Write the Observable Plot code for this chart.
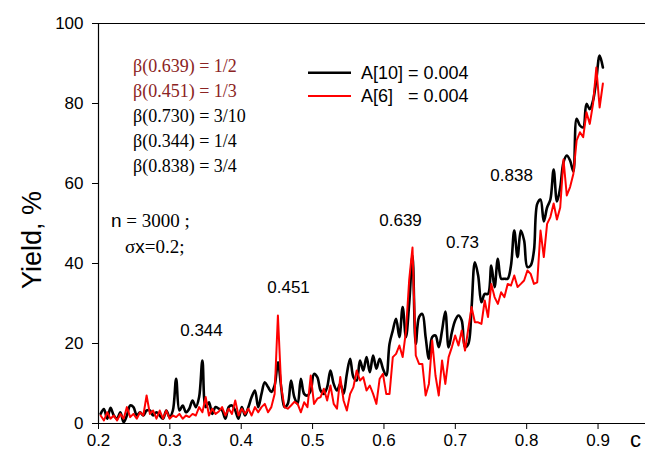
<!DOCTYPE html>
<html><head><meta charset="utf-8">
<script src="https://cdn.jsdelivr.net/npm/d3@7"></script>
<script src="https://cdn.jsdelivr.net/npm/@observablehq/plot@0.6"></script>
<style>body{margin:0;background:#fff} svg{display:block}</style>
</head><body><div id="chart"></div>
<script>
// sampling grid of the c axis
const cStart = 0.203, cStep = 0.0046;
// Yield, %  for A[10] = 0.004 (black)
const yieldA10 = [
  2.4, 3.6, 1.2, 3.9, 2.0, 1.2, 2.8, 0.3, 2.0, 4.5,
  4.1, 2.0, 2.8, 2.0, 3.25, 3.25, 2.0, 2.8, 2.0, 1.2,
  3.25, 1.6, 3.25, 11.2, 3.25, 4.5, 2.8, 3.7, 5.75, 4.1,
  6.6, 15.75, 4.1, 5.3, 2.4, 4.1, 3.7, 3.25, 1.2, 4.1,
  4.5, 3.25, 1.2, 4.1, 2.0, 4.1, 6.6, 8.25, 4.1, 7.4,
  10.3, 9.1, 7.9, 9.5, 15.3, 9.1, 4.1, 4.9, 10.75, 6.6,
  4.9, 11.2, 7.4, 7.0, 8.25, 12.4, 11.6, 8.25, 7.4, 9.1,
  13.25, 9.9, 8.25, 9.9, 7.4, 12.4, 16.2, 11.6, 10.75, 15.75,
  13.25, 16.6, 12.8, 17.0, 13.7, 16.2, 13.7, 12.0, 19.9, 23.25,
  26.2, 21.6, 29.1, 21.6, 30, 42, 19.9, 26.6, 27.4, 21.6,
  16.2, 21.6, 22, 19.1, 23.25, 28, 19, 22.8, 25.75, 27,
  25.75, 19.1, 19.9, 29.1, 40.3, 37, 30.3, 32.4, 32.4, 39.5,
  34.1, 41.2, 36.2, 36.2, 36.2, 39.5, 48.25, 41.6, 48.25, 45.75,
  39.1, 39.5, 43.25, 54.9, 56, 50.5, 54, 56, 63.5, 55.5,
  59, 65.3, 67, 65.75, 63, 76.2, 74.5, 74, 79.9, 78.6,
  80.75, 86, 92, 89
];
// Yield, %  for A[6] = 0.004 (red)
const yieldA6 = [
  2.0, 0.75, 2.8, 1.2, 2.0, 0.75, 2.4, 1.2, 4.1, 1.6,
  2.4, 1.2, 2.8, 2.0, 7.0, 2.4, 3.25, 1.2, 3.25, 1.2,
  3.25, 1.2, 2.0, 1.6, 2.4, 1.2, 2.0, 1.6, 2.4, 2.0,
  4.1, 2.8, 6.6, 2.0, 3.7, 2.4, 3.0, 4.1, 2.0, 3.7,
  2.4, 5.75, 2.0, 3.7, 2.4, 3.7, 2.0, 4.1, 2.8, 4.1,
  4.9, 2.8, 4.1, 7.4, 27.0, 9.1, 4.1, 3.7, 4.5, 5.4,
  4.9, 2.8, 5.3, 4.1, 12, 4.9, 6.2, 6.6, 8.7, 5.75,
  9.5, 4.9, 3.7, 11.6, 5.75, 3.25, 7.4, 9.1, 13.25, 10.75,
  11.6, 8.25, 9.5, 7.4, 4.9, 11.2, 12.4, 7.4, 7.4, 16.6,
  17.4, 19.5, 16.6, 23, 36, 44, 17, 14.9, 14.9, 7,
  9.9, 20.75, 12, 7, 15.75, 9.9, 16.6, 19.1, 22, 19.5,
  23.25, 18.25, 23.7, 29.1, 25.3, 25.3, 24.9, 30.75, 26.6, 34.9,
  31.6, 29.9, 32.8, 31.6, 34.9, 34.5, 37, 34.1, 34.9, 35.75,
  38.25, 37.4, 34.9, 35.3, 48.25, 41.6, 49.9, 51.6, 55, 51,
  54, 66, 57, 59.1, 62.4, 70.75, 72.8, 71.6, 77.8, 74.9,
  79.9, 89, 79, 85
];
const xTicks = [0.2, 0.3, 0.4, 0.5, 0.6, 0.7, 0.8, 0.9];
const yTicks = [0, 20, 40, 60, 80, 100];
const peakText = ["0.344", "0.451", "0.639", "0.73", "0.838"];
const peakTextC = [0.3443, 0.4663, 0.6232, 0.7101, 0.7789];
const peakTextY = [23.3, 34.1, 50.8, 45.3, 62.1];
const betaLines = ["β(0.639) = 1/2", "β(0.451) = 1/3", "β(0.730) = 3/10", "β(0.344) = 1/4", "β(0.838) = 3/4"];
const betaColors = ["#8b2323", "#8b2323", "#000", "#000", "#000"];
const legendNames = ["A[10] = 0.004", "A[6]   = 0.004"];
const legendColors = ["#000", "#ff0000"];

const cs = yieldA10.map((_, i) => +(cStart + i * cStep).toFixed(4));
const rowsA10 = cs.map((c, i) => ({c, y: yieldA10[i]}));
const rowsA6 = cs.map((c, i) => ({c, y: yieldA6[i]}));
const peaks = peakText.map((t, i) => ({t, c: peakTextC[i], y: peakTextY[i]}));

const sans = "Arial, 'Liberation Sans', Helvetica, sans-serif";
const serif = "'Times New Roman', 'Liberation Serif', Times, serif";

const chart = Plot.plot({
  width: 645, height: 456,
  marginLeft: 98, marginRight: 0, marginTop: 23, marginBottom: 33,
  x: {domain: [0.2, 0.9665]},
  y: {domain: [0, 100]},
  style: {fontFamily: sans, fontSize: "17px", color: "#000", background: "#fff", overflow: "visible"},
  marks: [
    Plot.axisX({ticks: xTicks, tickSize: 6, tickPadding: 4, tickFormat: d => d.toFixed(1), label: null}),
    Plot.axisY({ticks: yTicks, tickSize: 6, tickPadding: 9, label: null}),
    Plot.ruleY([yTicks[0], yTicks[yTicks.length - 1]], {stroke: "#000", strokeWidth: 1.2}),
    Plot.ruleX([xTicks[0]], {stroke: "#000", strokeWidth: 1.2}),
    Plot.line(rowsA10, {x: "c", y: "y", stroke: legendColors[0], strokeWidth: 2.6, curve: "catmull-rom"}),
    Plot.line(rowsA6, {x: "c", y: "y", stroke: legendColors[1], strokeWidth: 2}),
    Plot.text(peaks, {x: "c", y: "y", text: "t", fontSize: 17, fontFamily: sans, fill: "#000"})
  ]
});
document.getElementById("chart").appendChild(chart);

const svg = d3.select(chart);
const g = svg.append("g").attr("text-anchor", "start");
// y axis title
g.append("text").attr("transform", "translate(41,240) rotate(-90)")
  .attr("text-anchor", "middle").attr("font-family", sans).attr("font-size", 27).text("Yield, %");
// x axis title (cut by the page edge)
g.append("text").attr("x", 630).attr("y", 447).attr("font-family", sans).attr("font-size", 22).text("c");
// beta block
betaLines.forEach((t, i) => {
  g.append("text").attr("x", 133).attr("y", 71.5 + 25 * i)
    .attr("font-family", serif).attr("font-size", 18).attr("fill", betaColors[i]).text(t);
});
// n and sigma
const t1 = g.append("text").attr("x", 111).attr("y", 226.5).attr("font-size", 19);
t1.append("tspan").attr("font-family", sans).text("n");
t1.append("tspan").attr("font-family", serif).text(" = 3000 ;");
const t2 = g.append("text").attr("x", 125).attr("y", 253).attr("font-size", 19);
t2.append("tspan").attr("font-family", serif).text("σ");
t2.append("tspan").attr("font-family", sans).text("x");
t2.append("tspan").attr("font-family", serif).text("=0.2;");
// legend
legendNames.forEach((t, i) => {
  const yy = 72.7 + 23.3 * i;
  g.append("line").attr("x1", 308).attr("x2", 351).attr("y1", yy).attr("y2", yy)
    .attr("stroke", legendColors[i]).attr("stroke-width", i === 0 ? 2.6 : 2);
  g.append("text").attr("x", 361).attr("y", yy + 6.3).attr("font-family", sans)
    .attr("font-size", 18).style("white-space", "pre").text(t);
});
</script>
</body></html>
